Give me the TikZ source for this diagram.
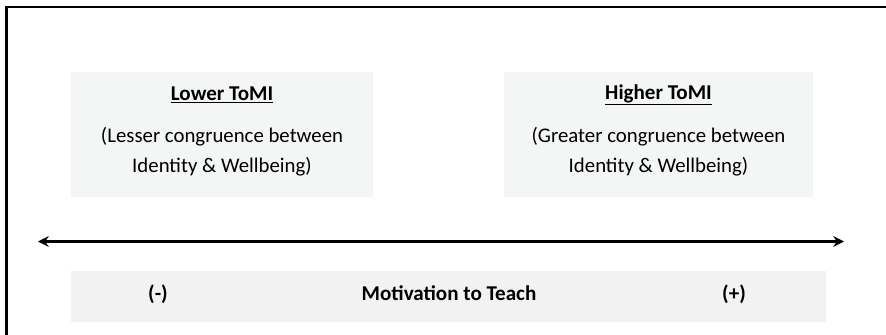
\documentclass[tikz,border=0pt]{standalone}
\usepackage{fontspec}
\setmainfont{Carlito}
\usetikzlibrary{arrows.meta}
\definecolor{boxgray}{RGB}{244,245,245}
\definecolor{bargray}{RGB}{242,242,242}
\tikzset{
  panel/.style={fill=boxgray, draw=none, inner sep=0pt},
  bar/.style={fill=bargray, draw=none, inner sep=0pt},
  txt/.style={inner sep=0pt, font=\fontsize{15.6}{22.5}\selectfont, align=center, text=black},
  btxt/.style={inner sep=0pt, font=\fontsize{15.8}{18}\selectfont\bfseries, text=black},
}
\begin{document}
\begin{tikzpicture}[x=0.75pt, y=-0.75pt]
\useasboundingbox (0,0) rectangle (886,335);
\draw[line width=1.6pt] (6.5,7) rectangle (895,345);
% top panels
\node[panel, minimum width=302*0.75pt, minimum height=125*0.75pt] (lowbox) at (222,134.5) {};
\node[panel, minimum width=309*0.75pt, minimum height=125*0.75pt] (highbox) at (658.5,134.5) {};
\node[btxt] (lowtitle) at (222,95) {\underline{Lower ToMI}};
\node[txt] (lowtext) at (222,152) {(Lesser congruence between\\Identity \& Wellbeing)};
\node[btxt] (hightitle) at (658.5,95) {\underline{Higher ToMI}};
\node[txt] (hightext) at (658.5,152) {(Greater congruence between\\Identity \& Wellbeing)};
% arrow
\coordinate (aleft) at (38,241.5);
\coordinate (aright) at (844,241.5);
\draw[line width=1.6pt, {Stealth[length=8pt,width=8pt]}-{Stealth[length=8pt,width=8pt]}] (aleft) -- (aright);
% bottom bar
\node[bar, minimum width=755*0.75pt, minimum height=51*0.75pt] (barbox) at (448.5,296.5) {};
\node[btxt] (minus) at (158,294) {(-)};
\node[btxt] (mot) at (449,293) {Motivation to Teach};
\node[btxt] (plus) at (734,294) {(+)};
\end{tikzpicture}
\end{document}
